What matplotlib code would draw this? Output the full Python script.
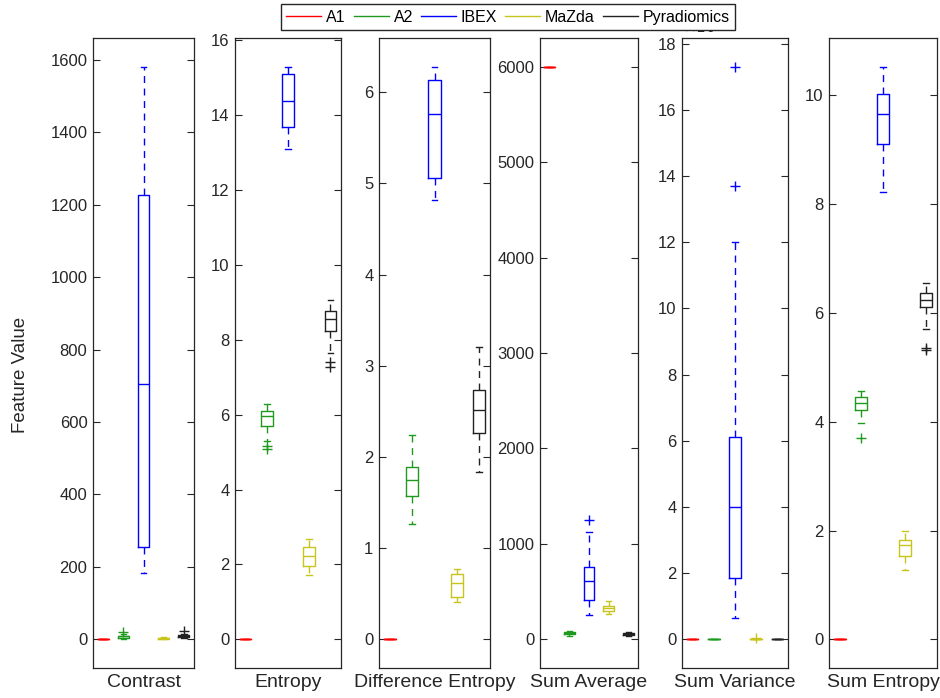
import numpy as np
import matplotlib
matplotlib.use("Agg")
import matplotlib.pyplot as plt
from matplotlib.lines import Line2D
from matplotlib.ticker import FuncFormatter

plt.rcParams['font.family'] = ['Liberation Sans', 'DejaVu Sans']

features = ["Contrast", "Entropy", "Difference Entropy", "Sum Average", "Sum Variance", "Sum Entropy"]
groups = ["A1", "A2", "IBEX", "MaZda", "Pyradiomics"]
colors = ["#ff0000", "#1f9a1f", "#0000ff", "#c8c41e", "#222222"]

# box statistics per feature (rows) and group (columns); Sum Variance in units of 1e5
whisker_lo = [[0, 2, 182, 1, 3],
              [0, 5.29, 13.1, 1.73, 7.65],
              [0, 1.27, 4.82, 0.41, 1.83],
              [6000, 40, 257, 267, 35],
              [0, 0, 0.65, 0.003, 0],
              [0, 3.98, 8.23, 1.27, 5.71]]
q1 = [[0, 5, 254, 2, 6],
      [0, 5.71, 13.7, 1.95, 8.24],
      [0, 1.57, 5.06, 0.46, 2.26],
      [6000, 55, 413, 298, 50],
      [0, 0, 1.86, 0.003, 0],
      [0, 4.22, 9.10, 1.53, 6.11]]
median = [[0, 8, 706, 3, 9],
          [0, 5.96, 14.37, 2.24, 8.56],
          [0, 1.75, 5.76, 0.62, 2.52],
          [6000, 65, 613, 326, 60],
          [0, 0, 3.99, 0.003, 0],
          [0, 4.35, 9.65, 1.73, 6.24]]
q3 = [[0, 10, 1228, 4, 11],
      [0, 6.09, 15.1, 2.48, 8.78],
      [0, 1.895, 6.13, 0.72, 2.73],
      [6000, 75, 759, 354, 70],
      [0, 0, 6.12, 0.003, 0],
      [0, 4.46, 10.02, 1.82, 6.37]]
whisker_hi = [[0, 15, 1581, 6, 16],
              [0, 6.28, 15.3, 2.67, 9.07],
              [0, 2.24, 6.28, 0.77, 3.21],
              [6000, 85, 1123, 402, 80],
              [0, 0, 12.0, 0.003, 0],
              [0, 4.57, 10.53, 2.0, 6.55]]
outliers = [[[], [19], [], [], [22]],
            [[], [5.16, 5.08], [], [], [7.40, 7.28]],
            [[], [], [], [], []],
            [[], [], [1255], [], []],
            [[], [], [17.31, 13.71], [0.03], []],
            [[], [3.70], [], [], [5.36, 5.32]]]
yticks = [np.arange(0, 1601, 200), np.arange(0, 17, 2), np.arange(0, 7, 1),
          np.arange(0, 6001, 1000), np.arange(0, 19, 2), np.arange(0, 11, 2)]
exponent = [0, 0, 0, 0, 5, 0]

W, H = 940, 698
fig = plt.figure(figsize=(W / 100, H / 100), dpi=100)
edges = [(93, 194), (235, 341), (379, 490), (540, 638), (682, 788), (829, 937)]
top, bot = 38, 668

for k, name in enumerate(features):
    l, r = edges[k]
    ax = fig.add_axes([l / W, (H - bot) / H, (r - l) / W, (bot - top) / H])
    s = 10.0 ** exponent[k]
    for g in range(5):
        st = dict(med=median[k][g] * s, q1=q1[k][g] * s, q3=q3[k][g] * s,
                  whislo=whisker_lo[k][g] * s, whishi=whisker_hi[k][g] * s,
                  fliers=np.array(outliers[k][g]) * s)
        c = colors[g]
        ax.bxp([st], positions=[g + 1], widths=0.55, capwidths=0.27,
               boxprops=dict(color=c, lw=1),
               medianprops=dict(color=c, lw=1),
               whiskerprops=dict(color=c, lw=1, linestyle=(0, (5, 4))),
               capprops=dict(color=c, lw=1),
               flierprops=dict(marker='+', markeredgecolor=c, markersize=7, markeredgewidth=1),
               manage_ticks=False)
    hi = max(max(whisker_hi[k]), max(max(o) if o else 0 for o in outliers[k])) * s
    lo = 0
    pad = (hi - lo) * 0.05
    ax.set_ylim(lo - pad, hi + pad)
    ax.set_xlim(0.5, 5.5)
    ax.set_xticks([])
    ax.set_yticks(yticks[k] * s)
    if exponent[k]:
        ax.yaxis.set_major_formatter(FuncFormatter(lambda v, p, s=s: f"{v / s:g}"))
        ax.text(0.01, 1.003, r"$\times10^{%d}$" % exponent[k], transform=ax.transAxes,
                ha='left', va='bottom', fontsize=11, color='#262626')
    ax.tick_params(axis='y', direction='in', length=5, width=0.8, right=True,
                   labelsize=12, colors='#262626', pad=4)
    for sp in ax.spines.values():
        sp.set_color('#262626')
        sp.set_linewidth(0.9)
    ax.set_xlabel(name, fontsize=14, color='#262626', labelpad=4)
    if k == 0:
        ax.set_ylabel("Feature Value", fontsize=13.5, color='#262626')
        ax.yaxis.set_label_coords(-0.63, 0.465)

handles = [Line2D([], [], color=c, lw=1) for c in colors]
fig.legend(handles, groups, loc='upper center', bbox_to_anchor=(508 / W, 1 - 4 / H),
           ncol=5, fontsize=11.5, frameon=True, fancybox=False, edgecolor='#262626',
           framealpha=1, handlelength=2.2, handletextpad=0.3, columnspacing=0.5,
           borderpad=0.35, borderaxespad=0)

fig.savefig("out.png", dpi=100)
